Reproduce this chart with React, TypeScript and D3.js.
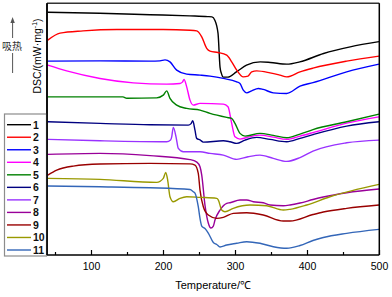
import React, { useEffect, useRef } from "react";
import * as d3 from "d3";

type Pt = [number, number];

const labels = ["1", "2", "3", "4", "5", "6", "7", "8", "9", "10", "11"];
const colors = ["#000000", "#FF0000", "#0000FF", "#FF00FF", "#008000", "#000080", "#9932FF", "#990099", "#990000", "#999900", "#3366B8"];

const majorTicks = [100, 200, 300, 400, 500];
const minorTicks = [50, 150, 250, 350, 450];

const s1: Pt[] = [[40, 243], [112, 242], [182, 240.5], [237, 239.3], [262, 238.6], [268, 238.3], [272, 235], [276.4, 222], [279.2, 188], [281, 182], [283.8, 178], [290, 178], [302, 183.3], [316, 190], [335, 193.3], [349, 192.7], [372, 191], [390, 193.3], [423, 201.7], [460, 208.3], [500, 213.5]];
const s2: Pt[] = [[40, 215], [57, 222], [89, 224.3], [136, 225.7], [200, 225.7], [237.5, 225], [246.8, 224.3], [253.8, 218.3], [260.7, 206.7], [265.3, 204], [276.4, 202.7], [288.5, 200], [295.4, 193.3], [302.4, 185], [311.5, 178.3], [318.1, 179], [323.2, 183.3], [330.1, 184.3], [348.6, 182.3], [362.5, 180], [371.8, 178.3], [390.3, 183.3], [408.3, 187], [455.1, 194], [500, 199]];
const s3: Pt[] = [[40, 194], [112.5, 194.3], [182, 194], [195.8, 194.3], [202.8, 195.3], [209.7, 193.3], [219, 185], [232.9, 181], [251.4, 180], [265.3, 179], [283.8, 176.7], [302.4, 173.3], [306.9, 171.7], [311.5, 165], [316.3, 162.3], [323.2, 164.3], [332.4, 166.7], [339.3, 165.7], [353.2, 162.3], [371.8, 161.7], [390.3, 169], [408.3, 172.5], [455.1, 183.3], [500, 191]];
const s4: Pt[] = [[40, 190], [66.2, 184.3], [112.5, 176.7], [158.8, 172.3], [205.1, 171], [223.6, 171.7], [227, 173], [229.2, 175.7], [232.9, 168.3], [237.5, 155], [242.1, 150], [251.4, 151.7], [283.8, 151], [290.3, 148.3], [295.4, 131.7], [300, 118.3], [306.9, 116], [318.1, 118], [334.7, 120], [353.2, 118], [371.8, 115.7], [390.3, 119], [408.3, 122.5], [455.1, 132], [500, 138.3]];
const s5: Pt[] = [[40, 158.3], [112.5, 158.3], [144.4, 158.3], [149.6, 156.9], [191.3, 157.3], [200.4, 160], [205.1, 164.3], [209.7, 156.7], [219, 150], [232.9, 146.7], [251.4, 145], [265.3, 141.7], [288.5, 137.7], [295.4, 136.7], [300, 131.7], [306.9, 121.7], [313.9, 119], [334.7, 121.7], [353.2, 119.7], [371.8, 117.3], [390.3, 121], [408.3, 125.5], [455.1, 133.3], [500, 141]];
const s6: Pt[] = [[40, 133.3], [112.5, 131.7], [182, 130.3], [235.1, 130], [239, 131.5], [241.3, 134.3], [244.4, 125], [246.8, 116.7], [251.4, 115.2], [256, 113], [283.8, 114.3], [293.1, 113.3], [302.4, 111.7], [313.9, 115], [330.1, 117.7], [348.6, 115.7], [371.8, 113.3], [390.3, 116.7], [408.3, 120.5], [455.1, 129], [500, 133.3]];
const s7: Pt[] = [[40, 115.7], [112.5, 114.3], [205.1, 113.3], [210.5, 115], [212.1, 118.3], [214.3, 127.7], [218.1, 118.3], [221.3, 106.7], [228.2, 103.3], [251.4, 103.3], [265.3, 101.7], [283.8, 100], [302.4, 95.7], [318.1, 98.3], [334.7, 100], [353.2, 96.7], [371.8, 93.7], [390.3, 97.5], [408.3, 104], [455.1, 112.3], [500, 115]];
const s8: Pt[] = [[40, 100.7], [112.5, 101.7], [182, 99.5], [237.5, 95.5], [247, 93], [251.4, 88.3], [253.8, 80], [258.3, 50], [262.9, 32], [266.6, 27], [269.9, 29], [272.2, 35], [279.2, 45], [288.5, 51.7], [293.1, 52.3], [306.9, 55], [316.3, 55], [325.4, 53.3], [339.3, 52.3], [348.6, 50], [367.1, 49.3], [376.4, 50], [390.3, 52], [408.3, 55.5], [422.6, 58], [455.1, 62.3], [500, 66]];
const s9: Pt[] = [[40, 80], [52.4, 85], [75.4, 89], [112.5, 91], [182, 91.7], [237.5, 91.2], [244.4, 90], [249, 81.7], [251.4, 65], [256, 48.3], [262.9, 40], [274.6, 36.7], [283.8, 37.7], [297.6, 41.7], [316.3, 42.3], [339.3, 40], [367.1, 34], [376.4, 34], [408.3, 40.5], [422.6, 43], [455.1, 46.7], [500, 50]];
const s10: Pt[] = [[40, 76.7], [112.5, 75.7], [191.3, 72.7], [200.4, 76.7], [203.8, 82.7], [206.5, 75], [209.7, 58.3], [214.3, 53.3], [223.6, 56.7], [232.9, 58.3], [251.4, 57.7], [274.6, 56.7], [276.9, 55], [281.5, 45], [286.1, 43.3], [297.6, 46.7], [320.8, 50], [344, 49.3], [367.1, 45], [376.4, 45.7], [399.6, 50], [431.9, 58.3], [500, 70.7]];
const s11: Pt[] = [[40, 69], [112.5, 68.3], [182, 67.3], [237.5, 65.5], [242.1, 63.3], [244.4, 62], [249, 48.3], [251.4, 36.7], [253.8, 29], [258.3, 26.5], [262.9, 22], [269.9, 12.5], [274.6, 10.5], [279.2, 8], [288.5, 10], [302.4, 11.7], [316.3, 13.3], [334.7, 11.7], [353.2, 8.3], [371.8, 6.7], [390.3, 9.5], [408.3, 14.5], [422.6, 17.5], [455.1, 21.7], [500, 25.7]];

const series = [s1, s2, s3, s4, s5, s6, s7, s8, s9, s10, s11];

const W = 392;
const H = 297;
const L = 47;
const R = 379.3;
const T = 3.2;
const B = 255;

export default function App() {
  const ref = useRef<SVGSVGElement>(null);

  useEffect(() => {
    const svg = d3.select(ref.current);
    svg.selectAll("*").remove();

    const x = d3.scaleLinear().domain([40, 500]).range([47.8, 379]);
    const y = d3.scaleLinear().domain([0, 252]).range([B, T]);

    const line = d3
      .line<Pt>()
      .x((d) => x(d[0]))
      .y((d) => y(d[1]))
      .curve(d3.curveMonotoneX);

    const g = svg.append("g");
    series.forEach((s, i) => {
      g.append("path")
        .attr("d", line(s) as string)
        .attr("fill", "none")
        .attr("stroke", colors[i])
        .attr("stroke-width", 1.4)
        .attr("stroke-linejoin", "round");
    });

    // frame
    svg.append("line").attr("x1", L).attr("x2", R).attr("y1", T).attr("y2", T).attr("stroke", "#333").attr("stroke-width", 1.5);
    svg.append("line").attr("x1", R).attr("x2", R).attr("y1", T).attr("y2", B).attr("stroke", "#000").attr("stroke-width", 1.5);

    // bottom axis
    const ax = d3
      .axisBottom(x)
      .tickValues(majorTicks)
      .tickSizeInner(-5)
      .tickSizeOuter(0)
      .tickPadding(8)
      .tickFormat((d) => String(d));
    const axG = svg.append("g").attr("transform", `translate(0,${B})`).call(ax);
    axG.select(".domain").remove();
    axG.selectAll("text").attr("font-family", "Liberation Sans, Arial, sans-serif").attr("font-size", 10.5).attr("fill", "#000");
    axG.selectAll("line").attr("stroke", "#000").attr("stroke-width", 1.2);

    const mn = d3.axisBottom(x).tickValues(minorTicks).tickSizeInner(-3).tickSizeOuter(0).tickFormat(() => "");
    const mnG = svg.append("g").attr("transform", `translate(0,${B})`).call(mn);
    mnG.select(".domain").remove();
    mnG.selectAll("line").attr("stroke", "#000").attr("stroke-width", 1.2);

    svg.append("line").attr("x1", L).attr("x2", R).attr("y1", B).attr("y2", B).attr("stroke", "#000").attr("stroke-width", 1.5);
    svg.append("line").attr("x1", L).attr("x2", L).attr("y1", T).attr("y2", B).attr("stroke", "#000").attr("stroke-width", 1.5);

    // legend
    const lg = svg.append("g");
    lg.append("rect").attr("x", 4.5).attr("y", 114).attr("width", 42).attr("height", 142).attr("fill", "#fff").attr("stroke", "#8c8c8c").attr("stroke-width", 1.2);
    labels.forEach((lab, i) => {
      const cy = 124.7 + i * 12.53;
      lg.append("line").attr("x1", 7).attr("x2", 31).attr("y1", cy).attr("y2", cy).attr("stroke", colors[i]).attr("stroke-width", 1.4);
      lg.append("text")
        .attr("x", 33)
        .attr("y", cy + 3.8)
        .attr("font-family", "Liberation Sans, Arial, sans-serif")
        .attr("font-weight", "bold")
        .attr("font-size", 10.5)
        .attr("fill", "#111")
        .text(lab);
    });
    svg.append("line").attr("x1", L).attr("x2", L).attr("y1", T).attr("y2", B).attr("stroke", "#000").attr("stroke-width", 1.5);

    // axis titles
    svg.append("text")
      .attr("x", (L + R) / 2)
      .attr("y", 289)
      .attr("text-anchor", "middle")
      .attr("font-family", "Liberation Sans, Arial, sans-serif")
      .attr("font-size", 11)
      .attr("fill", "#000")
      .text("Temperature/℃");

    const yl = svg.append("text")
      .attr("transform", `translate(41,56) rotate(-90)`)
      .attr("text-anchor", "middle")
      .attr("font-family", "Liberation Sans, Arial, sans-serif")
      .attr("font-size", 10.5)
      .attr("fill", "#000");
    yl.append("tspan").text("DSC/(mW·mg");
    yl.append("tspan").attr("font-size", 7).attr("dy", -4).text("-1");
    yl.append("tspan").attr("dy", 4).text(")");

    // endothermic arrow
    const ac = "#555";
    svg.append("line").attr("x1", 12.6).attr("x2", 12.6).attr("y1", 22).attr("y2", 38).attr("stroke", ac).attr("stroke-width", 1);
    svg.append("line").attr("x1", 12.6).attr("x2", 12.6).attr("y1", 53).attr("y2", 73).attr("stroke", ac).attr("stroke-width", 1);
    svg.append("path").attr("d", "M12.6,17 L10.4,23 L14.8,23 Z").attr("fill", ac);
    svg.append("text")
      .attr("x", 12)
      .attr("y", 49.5)
      .attr("text-anchor", "middle")
      .attr("font-family", "Noto Sans CJK SC, sans-serif")
      .attr("font-size", 10)
      .attr("fill", "#333")
      .text("吸热");
  }, []);

  return (
    <svg
      ref={ref}
      width={W}
      height={H}
      style={{ position: "absolute", left: 0, top: 0, background: "#fff" }}
    />
  );
}
